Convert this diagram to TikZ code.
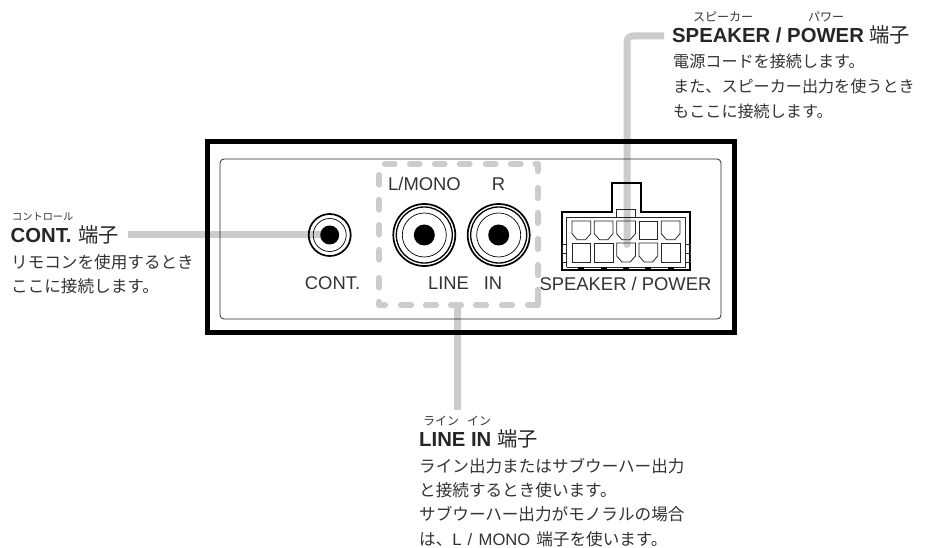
\documentclass[tikz,border=0pt]{standalone}
\usepackage{fontspec}
\setmainfont{Liberation Sans}
\newfontfamily\cjk{Noto Sans CJK JP}
\newfontfamily\latn{Liberation Sans}
\definecolor{leader}{HTML}{CCCCCC}
\definecolor{ink}{HTML}{333333}
\tikzset{
  leaderline/.style={draw=leader,line width=7bp},
  dashbox/.style={draw=leader,line width=6.2bp,line cap=round,line join=round},
  panellabel/.style={anchor=base,inner sep=0pt,text=ink,font=\fontsize{18.4bp}{20bp}\selectfont},
  heading/.style={anchor=base west,inner sep=0pt,text=black!85,font=\fontsize{20.3bp}{22bp}\selectfont},
  bodytext/.style={anchor=base west,inner sep=0pt,text=ink,font=\fontsize{16.6bp}{20bp}\cjk\selectfont},
  bodysmall/.style={bodytext,font=\fontsize{16.1bp}{20bp}\cjk\selectfont},
  rubytext/.style={anchor=base west,inner sep=0pt,text=ink,font=\fontsize{12bp}{14bp}\cjk\selectfont},
  rubysmall/.style={rubytext,font=\fontsize{10.2bp}{12bp}\cjk\selectfont},
  cellline/.style={draw=black!85,line width=0.8bp},
  thickline/.style={draw=black,line width=1.7bp},
}
\newcommand{\flatcell}[3]{\draw[cellline] (#1,#2) rectangle (#1+18.7,#3);}
\newcommand{\chamfcell}[3]{\draw[cellline] (#1,#2) -- (#1+18.7,#2) -- (#1+18.7,#3-6) -- (#1+13.5,#3) -- (#1+5.2,#3) -- (#1,#3-6) -- cycle;}
\begin{document}
\begin{tikzpicture}[x=1bp,y=-1bp]
\useasboundingbox[fill=white] (0,0) rectangle (935,548);
% anchors of the leaders
\coordinate (speakerstart) at (664,36);
\coordinate (speakerbend) at (627,36);
\coordinate (speakerend) at (627,244.5);
\coordinate (contstart) at (128,235);
\coordinate (contend) at (329.7,235);
\coordinate (linestart) at (457.7,304);
\coordinate (lineend) at (457.7,410);
% leaders
\draw[leaderline,rounded corners=6bp] (speakerstart) -- (speakerbend) -- (speakerend);
\fill[leader] (speakerend) circle (3.5bp);
\draw[leaderline] (contstart) -- (contend);
\draw[leaderline] (linestart) -- (lineend);
% dashed group outline
\foreach \xa in {385,410,435,460,486,511}
  \draw[dashbox] (\xa,164) -- (\xa+9.5,164);
\draw[dashbox] (535.5,164) -- (537.7,164) -- (537.7,171);
\foreach \ya in {188,213,239,265}
  \draw[dashbox] (537.7,\ya) -- (537.7,\ya+10);
\draw[dashbox] (537.7,290) -- (537.7,305) -- (528,305);
\foreach \xa in {401,426,451,476,502}
  \draw[dashbox] (\xa,305) -- (\xa+10,305);
\draw[dashbox] (379,302) -- (379,305) -- (385,305);
\foreach \ya in {175,200,225,250,278}
  \draw[dashbox] (379,\ya) -- (379,\ya+9.5);
% panel
\node[draw=black,line width=5bp,minimum width=527bp,minimum height=190.5bp,inner sep=0pt] (panel) at (471,236.75) {};
\draw[black!85,line width=0.8bp,rounded corners=4bp] (220,159) rectangle (721,319);
% jacks
\node[circle,draw=black,line width=1.7bp,minimum size=42bp,inner sep=0pt] (contjack) at (329.7,235) {};
\draw[black,line width=0.7bp] (contjack.center) circle (16.5bp);
\fill (contjack.center) circle (9.5bp);
\node[circle,draw=black,line width=1.7bp,minimum size=62bp,inner sep=0pt] (ljack) at (424.3,235) {};
\draw[black,line width=1.3bp] (ljack.center) circle (28bp);
\draw[black,line width=0.7bp] (ljack.center) circle (22bp);
\fill (ljack.center) circle (10.5bp);
\node[circle,draw=black,line width=1.7bp,minimum size=62bp,inner sep=0pt] (rjack) at (498.7,235) {};
\draw[black,line width=1.3bp] (rjack.center) circle (28bp);
\draw[black,line width=0.7bp] (rjack.center) circle (22bp);
\fill (rjack.center) circle (10.5bp);
% connector
\draw[thickline] (611.7,211.7) -- (611.7,182.7) -- (640.7,182.7) -- (640.7,211.7) -- (690,211.7) -- (690,270) -- (561.7,270) -- (561.7,211.7) -- cycle;
\draw[cellline] (566.7,267) -- (566.7,217.3) -- (685.7,217.3) -- (685.7,267);
\draw[cellline] (566.7,267) -- (685.7,267);
\draw[cellline] (616.7,209.5) rectangle (635.3,217.3);
\chamfcell{572}{221}{239.7}
\chamfcell{594.3}{221}{239.7}
\chamfcell{616.7}{221}{239.7}
\flatcell{639}{221}{239.7}
\chamfcell{661.3}{221}{239.7}
\flatcell{572}{243}{262}
\flatcell{594.3}{243}{262}
\chamfcell{616.7}{243}{262}
\chamfcell{639}{243}{262}
\flatcell{661.3}{243}{262}
\draw[cellline] (562,244) rectangle (566.7,253);
\draw[cellline] (562,253) rectangle (566.7,262);
\draw[cellline] (685.7,244) rectangle (690,253);
\draw[cellline] (685.7,253) rectangle (690,262);
\foreach \cx in {581.3,603.7,626,648.3,670.7}
  \draw[black,line width=1.2bp] (\cx-3,268) -- (\cx+3,268);
% panel labels
\node[panellabel] (lmono) at (424.5,190.5) {L/MONO};
\node[panellabel] (rlabel) at (498.5,190.5) {R};
\node[panellabel] (contlabel) at (332.5,289.5) {CONT.};
\node[panellabel] (linelabel) at (448.5,289.5) {LINE};
\node[panellabel] (inlabel) at (493,289.5) {IN};
\node[panellabel] (speakerlabel) at (625.5,290.5) {SPEAKER / POWER};
% CONT text
\node[rubysmall] (contruby) at (12,221) {コントロール};
\node[heading] (conthead) at (10.5,243) {\textbf{CONT.}\hspace{7bp}{\cjk 端子}};
\node[bodytext] (contb1) at (11,268.5) {リモコンを使用するとき};
\node[bodytext] (contb2) at (11,293) {ここに接続します。};
% SPEAKER text
\node[rubytext] (spruby1) at (693,21.5) {スピーカー};
\node[rubytext] (spruby2) at (808,21.5) {パワー};
\node[heading] (sphead) at (672,43) {\textbf{SPEAKER / POWER} {\cjk 端子}};
\node[bodysmall] (spb1) at (673,67.5) {電源コードを接続します。};
\node[bodysmall] (spb2) at (673,92.5) {また、スピーカー出力を使うとき};
\node[bodysmall] (spb3) at (673,117.5) {もここに接続します。};
% LINE IN text
\node[rubytext] (liruby1) at (423,425.5) {ライン};
\node[rubytext] (liruby2) at (467,425.5) {イン};
\node[heading] (lihead) at (419,446.5) {\textbf{LINE IN} {\cjk 端子}};
\node[bodytext] (lib1) at (419,472.5) {ライン出力またはサブウーハー出力};
\node[bodytext] (lib2) at (419,496) {と接続するとき使います。};
\node[bodytext] (lib3) at (419,520.5) {サブウーハー出力がモノラルの場合};
\node[bodytext] (lib4) at (419,545) {は、{\latn L\hspace{6bp}/\hspace{6.5bp}MONO}\hspace{6bp}端子を使います。};
\end{tikzpicture}
\end{document}
